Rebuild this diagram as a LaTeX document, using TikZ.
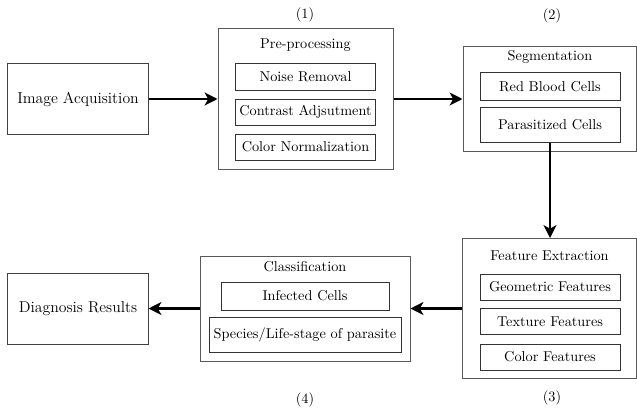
\documentclass[tikz,border=0pt]{standalone}
\usetikzlibrary{arrows.meta}
\tikzset{
  outerbox/.style={draw=black!65,line width=0.7pt,inner sep=0pt},
  innerbox/.style={draw=black!80,line width=0.7pt,minimum width=98pt,minimum height=18.2pt,inner sep=1pt},
  endbox/.style={draw=black!75,line width=0.7pt,minimum width=98pt,minimum height=49pt,font=\fontsize{11}{13}\selectfont},
  flow/.style={line width=1.7pt,-{Stealth[length=9pt,width=9pt,inset=2.5pt]}}
}
\begin{document}
\begin{tikzpicture}[x=0.7pt,y=-0.7pt]
  \useasboundingbox (0,0) rectangle (637,412);
  % end points of the chain
  \node[endbox] (acq) at (78,99) {Image Acquisition};
  \node[endbox,minimum height=49.7pt] (diag) at (78,308.5) {Diagnosis Results};
  % (1) pre-processing
  \node[outerbox,minimum width=122.5pt,minimum height=98pt] (pre) at (305.5,99) {};
  \node (pretitle) at (305.5,45) {Pre-processing};
  \foreach \i/\y/\t in {1/77/Noise Removal,2/112/Contrast Adjsutment,3/147/Color Normalization}{
    \node[innerbox] (pre\i) at (305.5,\y) {\t};
  }
  % (2) segmentation
  \node[outerbox,minimum width=121.1pt,minimum height=72.8pt] (seg) at (549.5,99) {};
  \node (segtitle) at (550,57) {Segmentation};
  \node[innerbox,minimum height=19pt] (seg1) at (550,86.5) {Red Blood Cells};
  \node[innerbox,minimum height=24pt] (seg2) at (550,125) {Parasitized Cells};
  % (3) feature extraction
  \node[outerbox,minimum width=121.8pt,minimum height=98pt] (feat) at (549,308.5) {};
  \node (feattitle) at (549.5,256) {Feature Extraction};
  \foreach \i/\y/\t in {1/287/Geometric Features,2/321.5/Texture Features,3/357/Color Features}{
    \node[innerbox] (feat\i) at (550,\y) {\t};
  }
  % (4) classification
  \node[outerbox,minimum width=147pt,minimum height=73.5pt] (cls) at (305,308.5) {};
  \node (clstitle) at (305,267) {Classification};
  \node[innerbox,minimum width=117.6pt,minimum height=19.6pt] (cls1) at (305,296) {Infected Cells};
  \node[innerbox,minimum width=134.4pt,minimum height=24.5pt] (cls2) at (305,334.5) {Species/Life-stage of parasite};
  % step numbers
  \foreach \n/\x/\y in {1/305/15,2/552/16,3/552/398,4/305/400}{
    \node (step\n) at (\x,\y) {(\n)};
  }
  % arrows
  \draw[flow] (acq.east) -- (pre.west);
  \draw[flow] (pre.east) -- (seg.west);
  \draw[flow] (seg2.south) -- (seg2.south |- feat.north);
  \draw[flow] (feat.west) -- (cls.east);
  \draw[flow] (cls.west) -- (diag.east);
\end{tikzpicture}
\end{document}
